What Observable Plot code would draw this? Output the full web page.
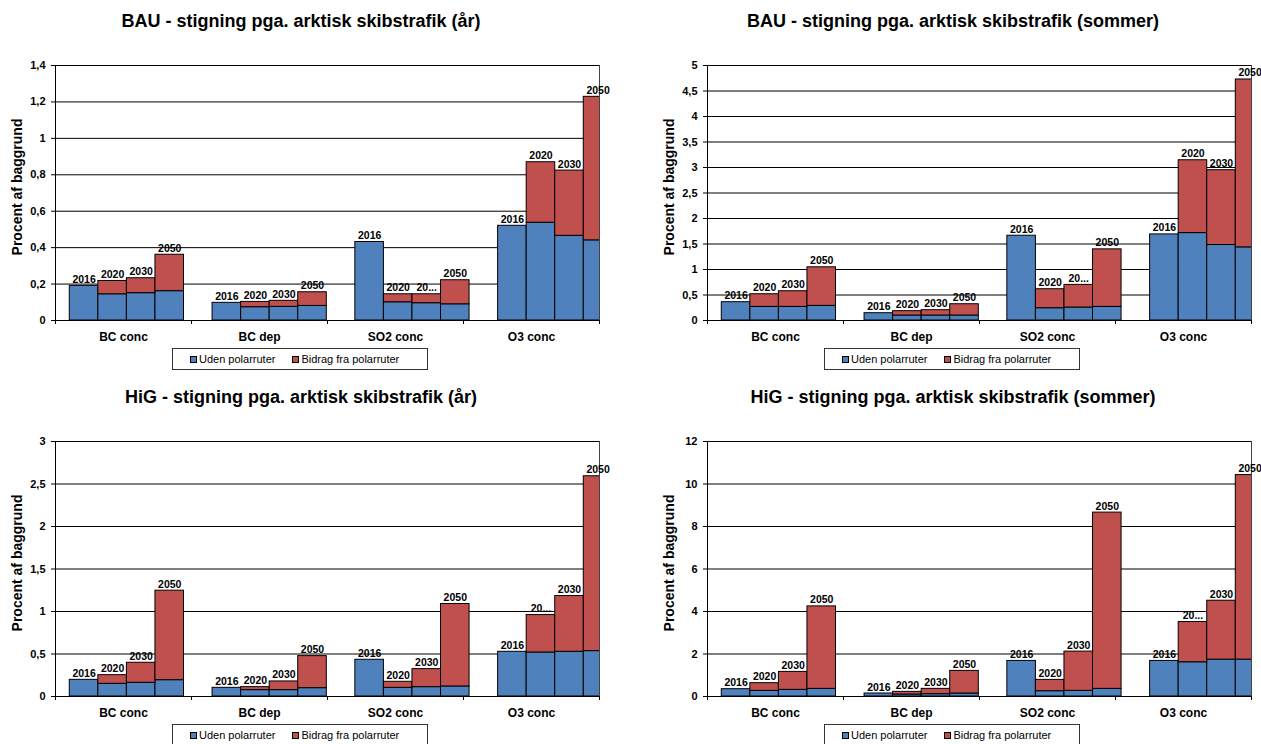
<!DOCTYPE html>
<html><head><meta charset="utf-8">
<script src="https://cdn.jsdelivr.net/npm/d3@7"></script>
<script src="https://cdn.jsdelivr.net/npm/@observablehq/plot@0.6"></script>
<style>
html,body{margin:0;padding:0;background:#fff;overflow:hidden}
#root{position:relative;width:1261px;height:744px;overflow:hidden;font-family:"Liberation Sans",Arial,sans-serif}
.panel{position:absolute;width:620px;height:376px}
.title{position:absolute;left:0;top:10px;width:602px;text-align:center;font-weight:bold;font-size:18px;line-height:22px;color:#000;white-space:nowrap}
.chart{position:absolute;left:0;top:55px;width:620px}
.legend{position:absolute;left:172px;top:348px;width:256px;height:22px;border:1px solid #333;box-sizing:border-box;font-size:11px;line-height:20px;color:#000;white-space:nowrap;padding-left:17px}
.sw{display:inline-block;width:5px;height:5px;border:1px solid #000;margin-right:2px;vertical-align:0px}
</style>
</head><body><div id="root"></div>
<script>
// ---- data ----
const categories = ["BC conc", "BC dep", "SO2 conc", "O3 conc"];
const years = ["2016", "2020", "2030", "2050"];
const seriesNames = ["Uden polarruter", "Bidrag fra polarruter"];
const seriesColors = ["#4F81BD", "#C0504D"];

// BAU (år)
const bauAarUden   = [0.190, 0.144, 0.150, 0.161,  0.097, 0.073, 0.075, 0.080,  0.431, 0.100, 0.095, 0.089,  0.520, 0.537, 0.465, 0.440];
const bauAarBidrag = [0.000, 0.073, 0.082, 0.200,  0.000, 0.029, 0.033, 0.075,  0.000, 0.044, 0.049, 0.132,  0.000, 0.332, 0.358, 0.788];
const bauAarLabels = ["2016","2020","2030","2050", "2016","2020","2030","2050", "2016","2020","20...","2050", "2016","2020","2030","2050"];
const bauAarTicks  = [0, 0.2, 0.4, 0.6, 0.8, 1, 1.2, 1.4];

// BAU (sommer)
const bauSomUden   = [0.359, 0.267, 0.267, 0.287,  0.143, 0.098, 0.098, 0.098,  1.662, 0.241, 0.254, 0.267,  1.688, 1.714, 1.480, 1.434];
const bauSomBidrag = [0.000, 0.248, 0.307, 0.756,  0.000, 0.085, 0.104, 0.221,  0.000, 0.372, 0.444, 1.128,  0.000, 1.428, 1.467, 3.292];
const bauSomLabels = ["2016","2020","2030","2050", "2016","2020","2030","2050", "2016","2020","20...","2050", "2016","2020","2030","2050"];
const bauSomTicks  = [0, 0.5, 1, 1.5, 2, 2.5, 3, 3.5, 4, 4.5, 5];

// HiG (år)
const higAarUden   = [0.196, 0.149, 0.161, 0.192,  0.102, 0.075, 0.075, 0.098,  0.432, 0.102, 0.110, 0.118,  0.526, 0.518, 0.526, 0.534];
const higAarBidrag = [0.000, 0.102, 0.236, 1.053,  0.000, 0.035, 0.102, 0.377,  0.000, 0.071, 0.212, 0.970,  0.000, 0.440, 0.656, 2.057];
const higAarLabels = ["2016","2020","2030","2050", "2016","2020","2030","2050", "2016","2020","2030","2050", "2016","20...","2030","2050"];
const higAarTicks  = [0, 0.5, 1, 1.5, 2, 2.5, 3];

// HiG (sommer)
const higSomUden   = [0.344, 0.266, 0.313, 0.360,  0.141, 0.094, 0.110, 0.141,  1.674, 0.250, 0.266, 0.360,  1.674, 1.612, 1.737, 1.737];
const higSomBidrag = [0.000, 0.360, 0.845, 3.880,  0.000, 0.125, 0.250, 1.064,  0.000, 0.532, 1.847, 8.294,  0.000, 1.893, 2.770, 8.683];
const higSomLabels = ["2016","2020","2030","2050", "2016","2020","2030","2050", "2016","2020","2030","2050", "2016","20...","2030","2050"];
const higSomTicks  = [0, 2, 4, 6, 8, 10, 12];

const panels = [
  {left: 0,   top: 0,   title: "BAU - stigning pga. arktisk skibstrafik (år)",     uden: bauAarUden, bidrag: bauAarBidrag, labels: bauAarLabels, ticks: bauAarTicks},
  {left: 652, top: 0,   title: "BAU - stigning pga. arktisk skibstrafik (sommer)", uden: bauSomUden, bidrag: bauSomBidrag, labels: bauSomLabels, ticks: bauSomTicks},
  {left: 0,   top: 376, title: "HiG - stigning pga. arktisk skibstrafik (år)",     uden: higAarUden, bidrag: higAarBidrag, labels: higAarLabels, ticks: higAarTicks},
  {left: 652, top: 376, title: "HiG - stigning pga. arktisk skibstrafik (sommer)", uden: higSomUden, bidrag: higSomBidrag, labels: higSomLabels, ticks: higSomTicks}
];

// Excel layout: each category holds 4 bars followed by a one-bar gap; the axis spans ~19 bar widths
const slotsPerAxis = 19.05;
const fmt = d => String(d).replace(".", ",");
const font = '"Liberation Sans", Arial, sans-serif';

const root = document.getElementById("root");

for (const p of panels) {
  const rows = p.uden.map((u, i) => {
    const g = Math.floor(i / 4), j = i % 4;
    const s = 0.5 + g * 5 + j;
    return {category: categories[g], year: years[j], x1: s, x2: s + 1, xc: s + 0.5,
            uden: u, bidrag: p.bidrag[i], total: u + p.bidrag[i], label: p.labels[i]};
  });
  const catStep = slotsPerAxis / categories.length;
  const boundaries = d3.range(categories.length + 1).map(i => i * catStep);
  const centers = categories.map((c, i) => (i + 0.5) * catStep);
  const yMax = p.ticks[p.ticks.length - 1];

  const chart = Plot.plot({
    width: 620, height: 290,
    marginLeft: 55, marginRight: 21, marginTop: 10, marginBottom: 25,
    x: {type: "linear", domain: [0, slotsPerAxis], axis: null},
    y: {domain: [0, yMax], axis: null},
    style: {fontFamily: font, fontWeight: "bold", fontSize: "11px", color: "#000", overflow: "visible", background: "transparent"},
    marks: [
      Plot.gridY(p.ticks, {stroke: "#000", strokeOpacity: 1, strokeWidth: 1}),
      Plot.ruleX([slotsPerAxis], {y1: 0, y2: yMax, stroke: "#444"}),
      Plot.rectY(rows, {x1: "x1", x2: "x2", y1: 0, y2: "uden", fill: seriesColors[0], stroke: "#000", strokeWidth: 1, clip: true}),
      Plot.rectY(rows.filter(d => d.bidrag > 0), {x1: "x1", x2: "x2", y1: "uden", y2: "total", fill: seriesColors[1], stroke: "#000", strokeWidth: 1, clip: true}),
      Plot.ruleX([0], {y1: 0, y2: yMax, stroke: "#000"}),
      Plot.ruleY([0], {stroke: "#000"}),
      Plot.axisY(p.ticks, {tickSize: 4, tickPadding: 6, tickFormat: fmt, label: null, fontSize: 11, stroke: "#000"}),
      Plot.axisX(boundaries, {tickSize: 4, tickFormat: () => "", label: null, stroke: "#000"}),
      Plot.axisX(centers, {tickSize: 0, tickPadding: 12, tickFormat: (d, i) => categories[i], label: null, fontSize: 12}),
      Plot.text(rows, {x: "xc", y: "total", text: "label", dy: -3, lineAnchor: "bottom", fontSize: 10.5, fill: "#000"}),
      Plot.text(["Procent af baggrund"], {frameAnchor: "left", rotate: -90, dx: -38, dy: -6, textAnchor: "middle", lineAnchor: "middle", fontSize: 14, fill: "#000"})
    ]
  });

  const panel = document.createElement("div");
  panel.className = "panel";
  panel.style.left = p.left + "px";
  panel.style.top = p.top + "px";

  const title = document.createElement("div");
  title.className = "title";
  title.textContent = p.title;
  panel.appendChild(title);

  const holder = document.createElement("div");
  holder.className = "chart";
  holder.appendChild(chart);
  panel.appendChild(holder);

  const legend = document.createElement("div");
  legend.className = "legend";
  legend.innerHTML =
    `<span class="sw" style="background:${seriesColors[0]}"></span>${seriesNames[0]}` +
    `<span style="display:inline-block;width:17px"></span>` +
    `<span class="sw" style="background:${seriesColors[1]}"></span>${seriesNames[1]}`;
  panel.appendChild(legend);

  root.appendChild(panel);
}
</script>
</body></html>
